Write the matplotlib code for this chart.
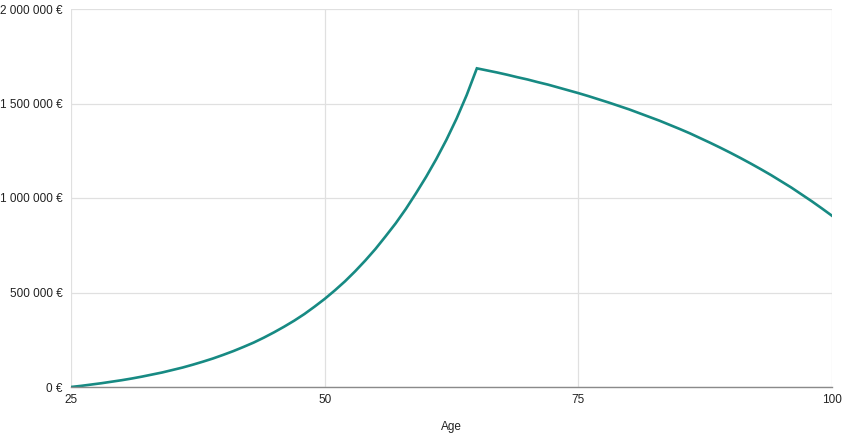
import matplotlib
matplotlib.use("Agg")
import matplotlib.pyplot as plt

ages = list(range(25, 101))
wealth_k = [
    0, 6, 13, 20, 28, 36, 45, 55, 66, 77,          # 25-34
    90, 103, 118, 134, 151, 170, 190, 212, 235, 261,  # 35-44
    289, 319, 351, 386, 425, 466, 511, 559, 612, 669,  # 45-54
    730, 797, 866, 942, 1025, 1112, 1206, 1308, 1420, 1545,  # 55-64
    1686, 1675, 1664, 1652, 1639, 1627, 1613, 1600, 1585, 1570,  # 65-74
    1555, 1539, 1522, 1505, 1487, 1469, 1449, 1429, 1409, 1387,  # 75-84
    1365, 1342, 1317, 1292, 1266, 1239, 1211, 1182, 1152, 1121,  # 85-94
    1088, 1055, 1019, 983, 945, 906,  # 95-100
]
wealth = [v * 1000 for v in wealth_k]

x_ticks = [25, 50, 75, 100]
y_ticks = [0, 500000, 1000000, 1500000, 2000000]
y_labels = ["0 €", "500 000 €", "1 000 000 €", "1 500 000 €", "2 000 000 €"]

plt.rcParams['font.family'] = ['Liberation Sans', 'DejaVu Sans']

fig = plt.figure(figsize=(8.5, 4.45), dpi=100)
ax = fig.add_axes([71/850, 1 - 387/445, (832 - 71)/850, (387 - 9)/445])

ax.plot(ages, wealth, color='#178a83', linewidth=1.9, solid_joinstyle='miter', zorder=3)

ax.set_xlim(25, 100)
ax.set_ylim(0, 2000000)
ax.set_xticks(x_ticks)
ax.set_xticklabels([str(t) for t in x_ticks])
ax.set_yticks(y_ticks)
ax.set_yticklabels(y_labels)

ax.grid(True, color='#e0e0e0', linewidth=0.9, zorder=0)
for s in ['top', 'right', 'left']:
    ax.spines[s].set_visible(False)
ax.spines['bottom'].set_color('#8a8a8a')
ax.spines['bottom'].set_linewidth(1.0)
ax.spines['bottom'].set_zorder(4)

ax.tick_params(axis='both', length=0, labelsize=8.5, labelcolor='#222222')
ax.tick_params(axis='x', pad=5)
ax.tick_params(axis='y', pad=6)

ax.set_xlabel("Age", fontsize=8.5, color='#222222', labelpad=11)

fig.savefig("out.png", dpi=100, facecolor='white')
